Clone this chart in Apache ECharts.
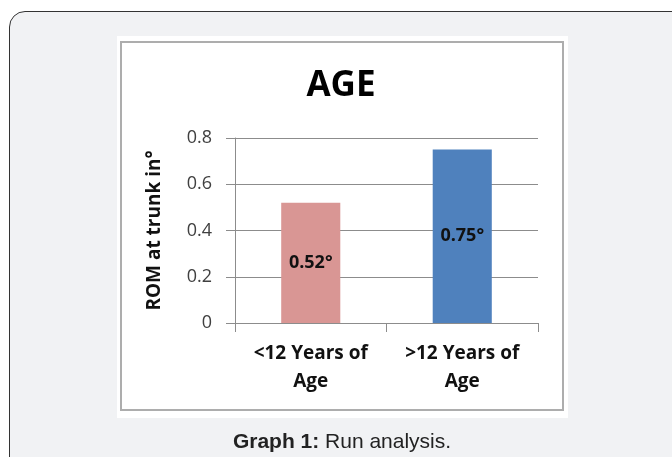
<!DOCTYPE html>
<html><head><meta charset="utf-8">
<script src="https://cdn.jsdelivr.net/npm/echarts@6/dist/echarts.min.js"></script>
<style>
html,body{margin:0;padding:0;background:#fff;overflow:hidden;}
#wrap{position:relative;width:672px;height:457px;overflow:hidden;}
#frame{position:absolute;left:9px;top:11px;width:700px;height:480px;border:1px solid #333;border-radius:16px;background:#f1f2f4;box-sizing:border-box;}
#panel{position:absolute;left:117px;top:36px;width:451px;height:382px;background:#fff;}
#inner{position:absolute;left:120px;top:41px;width:444px;height:370px;border:2px solid #adadad;box-sizing:border-box;}
#chart{position:absolute;left:0;top:0;width:672px;height:457px;}
</style></head>
<body>
<div id="wrap">
  <div id="frame"></div>
  <div id="panel"></div>
  <div id="inner"></div>
  <div id="chart"></div>
</div>
<script>
var categories = ['<12 Years of\nAge', '>12 Years of\nAge'];
var values = [0.52, 0.75];
var barColors = ['#d99694', '#4f81bd'];
var chartTitle = 'AGE';
var yAxisName = 'ROM at trunk in°';
var captionBold = 'Graph 1:';
var captionText = ' Run analysis.';

var chart = echarts.init(document.getElementById('chart'), null, {renderer: 'canvas'});
var option = {
  backgroundColor: 'transparent',
  animation: false,
  grid: {left: 235, right: 134, top: 138, bottom: 134, containLabel: false},
  xAxis: {
    type: 'category',
    data: categories,
    boundaryGap: true,
    axisLine: {show: true, lineStyle: {color: '#8c8c8c', width: 1}},
    axisTick: {show: true, alignWithLabel: false, length: 9, lineStyle: {color: '#8c8c8c'}},
    axisLabel: {
      margin: 17, interval: 0,
      fontFamily: 'Open Sans', fontWeight: 'bold', fontSize: 19, lineHeight: 28, color: '#111'
    },
    splitLine: {show: false}
  },
  yAxis: {
    type: 'value', min: 0, max: 0.8, interval: 0.2,
    name: yAxisName, nameLocation: 'middle', nameGap: 71, nameRotate: 90,
    nameTextStyle: {fontFamily: 'Open Sans', fontWeight: 'bold', fontSize: 19, color: '#111'},
    axisLine: {show: true, lineStyle: {color: '#8c8c8c', width: 1}},
    axisTick: {show: true, length: 9, lineStyle: {color: '#8c8c8c'}},
    axisLabel: {
      margin: 23, fontFamily: 'Open Sans', fontSize: 18, color: '#404040',
      formatter: function (v) { return v === 0 ? '0' : v.toFixed(1); }
    },
    splitLine: {show: true, lineStyle: {color: '#8c8c8c', width: 1}}
  },
  series: [{
    type: 'bar',
    barWidth: '39%',
    data: values.map(function (v, i) { return {value: v, itemStyle: {color: barColors[i]}}; }),
    label: {
      show: true, position: 'inside',
      formatter: function (p) { return p.value.toFixed(2) + '°'; },
      fontFamily: 'Open Sans', fontWeight: 'bold', fontSize: 18, color: '#111'
    }
  }],
  graphic: [
    {type: 'text', x: 341, y: 86, style: {text: chartTitle, textAlign: 'center', textVerticalAlign: 'middle',
      fontFamily: 'Open Sans', fontWeight: 'bold', fontSize: 35, fill: '#000'}},
    {type: 'text', x: 342, y: 442, style: {
      text: '{b|' + captionBold + '}{r|' + captionText + '}',
      textAlign: 'center', textVerticalAlign: 'middle',
      rich: {
        b: {fontFamily: 'Liberation Sans', fontWeight: 'bold', fontSize: 21, fill: '#222'},
        r: {fontFamily: 'Liberation Sans', fontSize: 21, fill: '#222'}
      }
    }}
  ]
};
chart.setOption(option);
</script>
</body></html>
